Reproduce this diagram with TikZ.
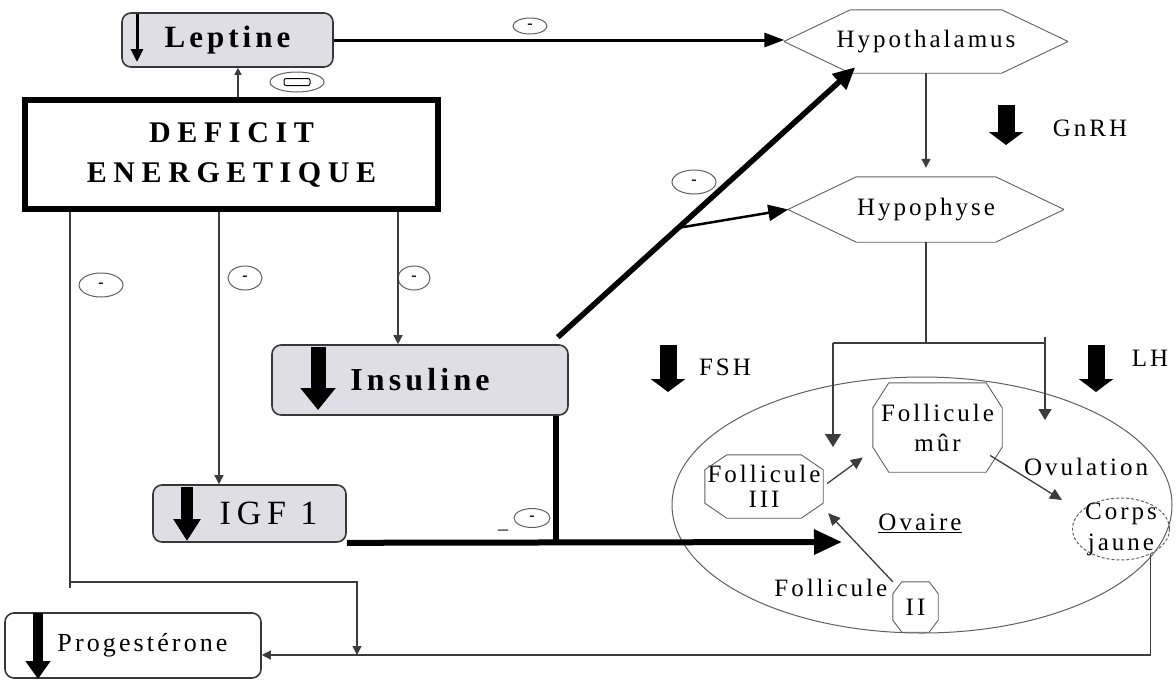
\documentclass[tikz,border=0pt]{standalone}
\usepackage{fontspec}
\setmainfont{Liberation Serif}
\newfontfamily\spaced[LetterSpace=12]{Liberation Serif}
\newfontfamily\spacedwide[LetterSpace=17]{Liberation Serif}
\newfontfamily\spacedbf[LetterSpace=13]{Liberation Serif}
\newfontfamily\widebf[LetterSpace=22]{Liberation Serif}
\usetikzlibrary{arrows.meta,positioning,calc,shapes.geometric}
\definecolor{boxgray}{RGB}{222,222,228}
\definecolor{boxline}{RGB}{55,55,55}
\definecolor{glandline}{RGB}{95,95,95}
\definecolor{linkgray}{RGB}{60,60,60}
\newcommand\cutbox[3]{%
  \draw[glandline, line width=0.9pt] ($(#1.north west)+(#2,0)$) -- ($(#1.north east)+(-#2,0)$)
    -- ($(#1.north east)+(0,#3)$) -- ($(#1.south east)+(0,-#3)$) -- ($(#1.south east)+(-#2,0)$)
    -- ($(#1.south west)+(#2,0)$) -- ($(#1.south west)+(0,-#3)$) -- ($(#1.north west)+(0,#3)$) -- cycle;}

\begin{document}
\begin{tikzpicture}[x=1pt, y=-1pt,
  every node/.style={font=\spaced\fontsize{25}{30}\selectfont},
  hormone/.style={draw=boxline, fill=boxgray, rounded corners=9pt, line width=1.6pt, inner sep=0pt},
  gland/.style={inner sep=0pt, align=center},
  inhib/.style={ellipse, draw=glandline, line width=1pt, inner sep=0pt, text depth=-2pt, font=\rmfamily\bfseries\fontsize{16}{16}\selectfont},
  wire/.style={draw=linkgray, line width=1.3pt},
  wiretip/.style={-{Triangle[length=9pt,width=9pt]}},
  bigdown/.style={line width=17pt, -{Triangle[length=13pt,width=34pt]}},
  boxdrop/.style n args={3}{line width=#1, -{Triangle[length=#2,width=#3]}}]
  \useasboundingbox (0,0) rectangle (1176,681);

  \node[ellipse, draw=glandline, line width=1pt, minimum width=500pt, minimum height=256pt] (ovaire) at (922,505) {};

  \node[hormone, minimum width=211pt, minimum height=54pt, font=\spacedbf\bfseries\fontsize{31}{31}\selectfont] (leptine) at (227.5,40) {Leptine};
  \node[draw=black, line width=6pt, minimum width=413pt, minimum height=109pt, align=center, font=\widebf\bfseries\fontsize{30}{40}\selectfont] (deficit) at (231.5,154.5) {DEFICIT\\ENERGETIQUE};
  \node[hormone, minimum width=296pt, minimum height=70pt, font=\spacedbf\bfseries\fontsize{32}{32}\selectfont] (insuline) at (420,380) {Insuline};
  \node[hormone, minimum width=193pt, minimum height=57pt, font=\spacedwide\fontsize{34}{34}\selectfont] (igf) at (249.5,513.5) {\hspace*{38pt}IGF 1};
  \node[hormone, fill=white, minimum width=256pt, minimum height=65pt, font=\spaced\fontsize{26}{26}\selectfont] (progesterone) at (133,645.5) {\hspace*{19pt}Progestérone};

  \node[gland, minimum width=283pt, minimum height=63pt] (hypothalamus) at (926,41.5) {Hypothalamus};
  \cutbox{hypothalamus}{66}{31.5}
  \node[gland, minimum width=275pt, minimum height=65pt] (hypophyse) at (926,209.5) {Hypophyse};
  \cutbox{hypophyse}{68}{32.5}

  \node[gland, minimum width=129pt, minimum height=89pt, font=\spaced\fontsize{25}{30}\selectfont] (fmur) at (937.5,427.5) {Follicule\\mûr};
  \cutbox{fmur}{16}{25}
  \node[gland, minimum width=118pt, minimum height=63pt, font=\spaced\fontsize{25}{25}\selectfont] (f3) at (764,486.5) {Follicule\\III};
  \cutbox{f3}{22}{15}
  \node[gland, minimum width=45pt, minimum height=50pt] (f2) at (915.5,607) {II};
  \cutbox{f2}{9}{12}
  \node[left=2pt of f2, yshift=19pt] (f2label) {Follicule};
  \node[ellipse, draw=glandline, densely dashed, line width=1pt, minimum width=97pt, minimum height=62pt] (corps) at (1121,529) {};
  \node[align=center, font=\spaced\fontsize{25}{31}\selectfont] (corpslabel) at (corps) {Corps\\jaune};
  \node (ovulation) at (1086,467) {Ovulation};
  \node (ovairelabel) at (920,523) {\underline{Ovaire}};

  \node (gnrh) at (1090,128) {GnRH};
  \node (fsh) at (725,367) {FSH};
  \node (lh) at (1150,358) {LH};
  \draw[bigdown] (1006,105) -- (1006,145);
  \draw[bigdown] (668,345) -- (668,392);
  \draw[bigdown] (1096,345) -- (1096,392);

  \draw[boxdrop={3pt}{13pt}{12pt}] (137,14) -- (137,62);
  \draw[boxdrop={15pt}{22pt}{34pt}] (318,347) -- (318,410);
  \draw[boxdrop={12pt}{22pt}{26pt}] (187,487) -- (187,541);
  \draw[boxdrop={10pt}{18pt}{24pt}] (38,613) -- (38,679);

  \node[inhib, minimum width=54pt, minimum height=20pt] (inhlep) at (297,82) {};
  \draw[line width=1pt, rounded corners=2pt] ($(inhlep)+(-13,-3.5)$) rectangle ($(inhlep)+(13,3.5)$);
  \node[inhib, minimum width=34pt, minimum height=16pt] (inhhyp) at (530,26) {-};
  \node[inhib, minimum width=44pt, minimum height=24pt] (inhins) at (694,182) {-};
  \node[inhib, minimum width=44pt, minimum height=24pt] (inhpro) at (101,285) {-};
  \node[inhib, minimum width=34pt, minimum height=24pt] (inhigf) at (245,278) {-};
  \node[inhib, minimum width=32pt, minimum height=24pt] (inhdef) at (414,278) {-};
  \node[inhib, minimum width=36pt, minimum height=19pt] (inhova) at (532,518) {-};
  \node[font=\rmfamily\fontsize{20}{20}\selectfont] (inhbar) at (503,530) {\_};

  \coordinate (lepx) at (238,0);
  \coordinate (colA) at (70,0);
  \coordinate (colB) at (219,0);
  \coordinate (colC) at (398,0);
  \coordinate (progsplit) at (357,582);
  \coordinate (proghit) at (357,655);
  \coordinate (igfjoin) at (556,542);
  \coordinate (ovin) at (842,542);
  \coordinate (fshL) at (833,343);
  \coordinate (lhR) at (1045,343);
  \coordinate (fshend) at (833,447);
  \coordinate (lhend) at (1045,420);
  \coordinate (diagA) at ($(insuline.north east)+(-11,-7)$);
  \coordinate (diagB) at ($(hypothalamus.south west)+(71,-6)$);

  \draw[wire, -{Triangle[length=7pt,width=7pt]}] (deficit.north -| lepx) -- (leptine.south -| lepx);
  \draw[line width=3pt, -{Triangle[length=20pt,width=14pt]}] (leptine.east) -- (leptine.east -| hypothalamus.west);
  \draw[wire, wiretip, shorten >=9pt] (hypothalamus) -- (hypophyse);
  \draw[line width=5.5pt, -{Triangle[length=22pt,width=20pt]}] (diagA) -- (diagB);
  \draw[line width=2.5pt, -{Triangle[length=20pt,width=16pt]}] ($(diagA)!0.405!(diagB)$) -- (hypophyse.west);

  \draw[wire, wiretip] (deficit.south -| colB) -- (igf.north -| colB);
  \draw[wire, wiretip] (deficit.south -| colC) -- (insuline.north -| colC);
  \draw[wire] (deficit.south -| colA) -- (colA |- 0,588);
  \draw[wire, wiretip] (colA |- progsplit) -- (progsplit) -- (proghit);
  \draw[wire, wiretip] (corps.-40) |- ($(progesterone.east)+(0,9.5)$);

  \draw[line width=6pt] (insuline.south -| igfjoin) -- (igfjoin);
  \draw[line width=6pt, -{Triangle[length=28pt,width=24pt]}] (igf.south east) -- (ovin);

  \draw[wire] (hypophyse.south) -- (hypophyse.south |- fshL);
  \draw[wire] (fshL) -- (lhR);
  \draw[wire, -{Triangle[length=13pt,width=16pt]}] (fshL) -- (fshend);
  \draw[wire, -{Triangle[length=11pt,width=13pt]}] ($(lhR)+(0,-6)$) -- (lhend);

  \draw[wire, -{Triangle[length=12pt,width=11pt]}] ($(f3.east)+(4,-3)$) -- ($(fmur.west)+(-10,30)$);
  \draw[wire, -{Triangle[length=12pt,width=11pt]}] (f2.north west) -- ($(f3.south east)+(5,-5)$);
  \draw[wire, -{Triangle[length=12pt,width=11pt]}] ($(fmur.east)+(-12,28)$) -- ($(corps.west)+(-10,-29)$);
\end{tikzpicture}
\end{document}
